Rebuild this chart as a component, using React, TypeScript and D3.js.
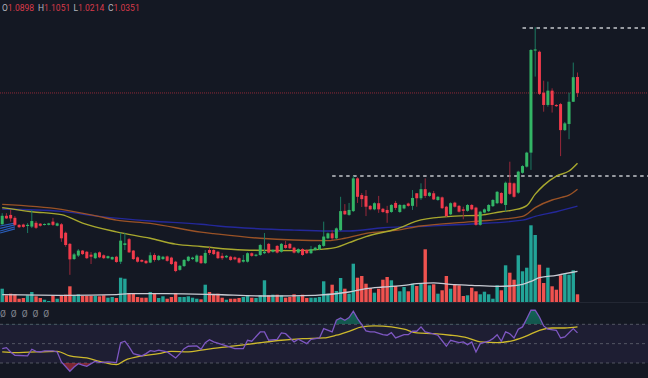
import React from "react";
import * as d3 from "d3";

const W = 648;
const H = 378;

// ---- OHLC (137 candles) ----
const opens = [
  0.586,0.615,0.618,0.608,0.584,0.585,0.580,0.578,0.591,0.588,
  0.584,0.584,0.595,0.581,0.586,0.557,0.519,0.467,0.479,0.496,
  0.492,0.482,0.470,0.490,0.480,0.470,0.466,0.475,0.458,0.515,
  0.535,0.496,0.473,0.464,0.461,0.455,0.481,0.464,0.467,0.476,
  0.472,0.458,0.430,0.443,0.461,0.467,0.458,0.478,0.453,0.498,
  0.498,0.492,0.478,0.473,0.475,0.473,0.470,0.458,0.458,0.487,
  0.478,0.481,0.487,0.519,0.492,0.512,0.492,0.515,0.519,0.506,
  0.489,0.501,0.498,0.487,0.498,0.500,0.512,0.538,0.555,0.538,
  0.566,0.632,0.618,0.631,0.743,0.686,0.683,0.649,0.637,0.658,
  0.639,0.635,0.628,0.659,0.628,0.640,0.657,0.649,0.692,0.675,
  0.706,0.683,0.692,0.669,0.678,0.646,0.620,0.660,0.649,0.637,
  0.632,0.652,0.643,0.584,0.626,0.631,0.648,0.658,0.693,0.652,
  0.728,0.726,0.694,0.762,0.783,0.831,1.180,1.176,1.036,0.994,
  1.043,0.994,0.997,0.908,0.929,1.005,1.0898,
];
const highs = [
  0.624,0.624,0.635,0.614,0.587,0.588,0.590,0.635,0.597,0.590,
  0.589,0.591,0.608,0.592,0.590,0.561,0.522,0.488,0.501,0.498,
  0.495,0.491,0.490,0.493,0.483,0.479,0.476,0.478,0.557,0.557,
  0.539,0.498,0.476,0.466,0.464,0.490,0.487,0.481,0.478,0.479,
  0.475,0.461,0.447,0.467,0.478,0.475,0.483,0.481,0.498,0.508,
  0.501,0.495,0.488,0.481,0.478,0.476,0.473,0.481,0.490,0.490,
  0.485,0.519,0.556,0.522,0.501,0.515,0.522,0.529,0.522,0.509,
  0.504,0.504,0.501,0.512,0.509,0.518,0.595,0.558,0.566,0.575,
  0.680,0.655,0.659,0.751,0.747,0.693,0.703,0.652,0.661,0.683,
  0.642,0.649,0.655,0.666,0.655,0.655,0.660,0.703,0.693,0.726,
  0.743,0.697,0.700,0.683,0.681,0.649,0.661,0.663,0.652,0.646,
  0.655,0.655,0.646,0.632,0.640,0.655,0.672,0.700,0.696,0.732,
  0.800,0.729,0.769,0.788,0.834,1.185,1.260,1.180,1.077,1.074,
  1.051,0.997,1.001,0.936,1.036,1.139,1.1051,
];
const lows = [
  0.584,0.604,0.595,0.580,0.573,0.574,0.556,0.573,0.570,0.578,
  0.582,0.582,0.580,0.579,0.526,0.509,0.413,0.464,0.474,0.481,
  0.467,0.450,0.467,0.470,0.467,0.468,0.464,0.454,0.450,0.498,
  0.488,0.464,0.455,0.456,0.450,0.453,0.458,0.461,0.464,0.458,
  0.447,0.422,0.427,0.440,0.458,0.464,0.455,0.450,0.450,0.481,
  0.481,0.467,0.464,0.470,0.461,0.463,0.452,0.455,0.455,0.475,
  0.475,0.478,0.484,0.486,0.489,0.486,0.489,0.502,0.501,0.486,
  0.486,0.478,0.484,0.484,0.495,0.497,0.509,0.535,0.532,0.535,
  0.563,0.618,0.615,0.628,0.659,0.645,0.614,0.634,0.634,0.625,
  0.625,0.591,0.625,0.635,0.625,0.637,0.646,0.635,0.646,0.669,
  0.676,0.680,0.669,0.666,0.638,0.611,0.617,0.643,0.626,0.603,
  0.629,0.634,0.581,0.581,0.623,0.628,0.645,0.655,0.655,0.629,
  0.686,0.677,0.690,0.759,0.780,0.772,1.091,1.028,0.971,0.988,
  0.968,0.987,0.819,0.905,0.877,1.004,1.0214,
];
const closes = [
  0.615,0.606,0.606,0.584,0.576,0.577,0.584,0.597,0.574,0.581,
  0.587,0.589,0.584,0.589,0.538,0.515,0.466,0.483,0.496,0.484,
  0.470,0.475,0.487,0.473,0.470,0.477,0.474,0.457,0.530,0.521,
  0.490,0.467,0.458,0.458,0.453,0.480,0.464,0.478,0.475,0.461,
  0.450,0.426,0.444,0.464,0.475,0.472,0.479,0.453,0.488,0.488,
  0.484,0.470,0.470,0.478,0.464,0.466,0.455,0.464,0.487,0.478,
  0.482,0.515,0.492,0.489,0.498,0.489,0.519,0.505,0.504,0.489,
  0.501,0.481,0.487,0.501,0.506,0.515,0.544,0.555,0.538,0.572,
  0.631,0.620,0.635,0.743,0.680,0.672,0.646,0.637,0.658,0.637,
  0.628,0.624,0.652,0.642,0.652,0.652,0.649,0.676,0.675,0.706,
  0.683,0.694,0.671,0.680,0.641,0.614,0.658,0.646,0.629,0.632,
  0.652,0.637,0.584,0.629,0.637,0.652,0.669,0.697,0.658,0.728,
  0.690,0.680,0.766,0.785,0.831,1.182,1.184,1.032,0.994,1.043,
  0.994,0.990,0.908,0.931,1.005,1.089,1.0351,
];
const volumes = [
  133,67,83,77,33,40,67,100,57,40,
  23,10,67,33,60,73,157,67,77,60,
  60,60,60,57,67,43,50,40,243,233,
  90,83,50,43,43,100,83,40,57,33,
  50,90,50,50,57,43,33,27,173,100,
  77,83,43,23,33,33,40,50,67,43,
  40,67,217,67,73,73,67,43,50,77,
  57,73,40,43,43,50,207,83,173,110,
  240,133,83,383,243,260,183,140,93,133,
  223,250,217,160,107,150,107,183,160,180,
  527,167,177,83,117,260,133,177,167,60,
  67,143,107,77,103,77,33,167,117,367,
  293,223,467,307,343,767,670,373,190,343,
  157,123,267,283,273,317,77,
];

// ---- moving averages: [candle index, value] ----
const maFast: [number, number][] = [
  [0,0.643],[7,0.629],[14,0.619],[19,0.590],[27,0.560],[35,0.538],[41,0.518],[47,0.510],
  [57,0.498],[69,0.496],[75,0.500],[79,0.507],[82,0.523],[86,0.544],[93,0.569],[99,0.601],
  [107,0.614],[113,0.617],[118,0.629],[121,0.635],[124,0.650],[126,0.689],[128,0.719],
  [131,0.751],[134,0.768],[136,0.795],
];
const maMid: [number, number][] = [
  [0,0.654],[14,0.637],[23,0.612],[27,0.600],[35,0.589],[47,0.559],[50,0.554],[61,0.538],
  [69,0.532],[77,0.530],[81,0.538],[86,0.555],[93,0.565],[99,0.580],[111,0.595],[123,0.613],
  [126,0.643],[130,0.669],[132,0.677],[134,0.686],[136,0.706],
];
const maSlow: [number, number][] = [
  [0,0.638],[14,0.630],[23,0.613],[35,0.597],[47,0.586],[51,0.580],[69,0.566],[77,0.563],
  [82,0.563],[90,0.574],[101,0.580],[111,0.587],[123,0.600],[126,0.613],[131,0.629],[136,0.648],
];
const volMa: [number, number][] = [
  [0,73],[15,67],[27,73],[30,83],[39,83],[50,75],[62,60],[74,67],[82,100],[86,133],[90,150],
  [95,167],[98,183],[102,192],[106,177],[111,167],[117,157],[120,160],[123,177],[125,207],
  [127,243],[131,267],[133,283],[136,307],
];

// ---- RSI ----
const rsi: [number, number][] = [
  [0,44.8],[1,45.9],[2,41.4],[3,38.0],[6,37.3],[7,44.2],[8,42.1],[9,41.4],[10,42.5],[12,42.5],
  [13,41.4],[14,31.1],[16,21.5],[17,25.9],[18,29.3],[19,27.7],[20,26.6],[22,31.8],[23,30.4],
  [25,31.1],[27,30.4],[28,51.0],[29,52.5],[30,46.6],[31,39.7],[33,37.3],[34,39.7],[35,42.8],
  [36,42.1],[37,43.2],[39,41.4],[41,35.2],[42,39.7],[43,44.8],[44,47.3],[46,47.6],[47,44.2],
  [48,51.0],[49,54.1],[50,51.8],[53,47.6],[55,44.8],[57,44.8],[58,53.5],[59,52.5],[61,62.1],
  [62,62.1],[63,53.5],[65,54.5],[66,61.1],[67,60.3],[69,51.8],[70,54.5],[72,50.0],[73,54.5],
  [75,55.9],[76,65.5],[78,62.1],[79,74.2],[80,76.6],[81,74.2],[82,76.9],[83,83.5],[84,75.8],
  [85,69.6],[86,63.1],[87,62.1],[88,62.1],[90,59.3],[91,58.7],[92,61.4],[93,55.9],[95,59.3],
  [96,59.3],[97,62.8],[98,62.8],[99,67.3],[100,62.1],[101,61.1],[103,58.7],[105,47.3],
  [106,53.5],[108,51.0],[109,51.8],[110,49.0],[111,51.8],[112,41.4],[113,50.0],[115,52.5],
  [116,55.2],[117,59.3],[118,52.5],[119,62.1],[120,60.3],[121,55.9],[122,64.9],[123,67.3],
  [124,75.8],[125,84.5],[126,84.5],[127,77.6],[128,68.3],[129,64.9],[131,63.8],[132,55.9],
  [133,56.9],[135,65.5],[136,61.1],
];
const rsiMa: [number, number][] = [
  [0,41.4],[3,40.7],[13,42.1],[16,37.3],[20,35.2],[23,31.8],[27,28.3],[29,32.8],[33,37.3],
  [37,39.7],[40,42.1],[44,41.4],[47,43.2],[51,45.6],[55,47.6],[61,51.0],[66,53.5],[71,55.2],
  [76,55.9],[79,58.7],[82,62.8],[85,67.3],[88,68.3],[92,67.3],[95,64.9],[98,61.1],[102,60.3],
  [106,58.7],[110,55.9],[113,51.8],[117,51.0],[121,53.5],[124,58.0],[127,63.8],[130,66.2],
  [133,66.2],[136,67.3],
];
const rsiLevels = [70, 50, 30];

// ---- drawings ----
const levelPrices = [1.257, 0.751];
const levelFrom = [123, 78];
const channelLo = [0.580, 0.572, 0.563, 0.556];
const channelHi = [0.590, 0.584, 0.577, 0.570];
const channelFrom = -0.5;
const channelTo = 3;

const BG = "#141823";
const UP = "#33b565";
const DOWN = "#f03a4b";
const UP_WICK = "#1c7a62";
const DOWN_WICK = "#98283a";
const VOL_UP = "#22a497";
const VOL_DOWN = "#f0524f";

export default function App() {
  const n = closes.length;
  const x = d3.scaleLinear().domain([0, n - 1]).range([2.2, 577.5]);
  const y = d3.scaleLinear().domain([0.327, 1.353]).range([300, 0]);
  const yv = d3.scaleLinear().domain([0, 1000]).range([302, 202]);
  const yr = d3.scaleLinear().domain([30, 70]).range([363, 324.3]);

  const priceLine = d3
    .line<[number, number]>()
    .x((d) => x(d[0]))
    .y((d) => y(d[1]))
    .curve(d3.curveMonotoneX);
  const volLine = d3
    .line<[number, number]>()
    .x((d) => x(d[0]))
    .y((d) => yv(d[1]))
    .curve(d3.curveMonotoneX);
  const rsiLine = d3
    .line<[number, number]>()
    .x((d) => x(d[0]))
    .y((d) => yr(d[1]));
  const rsiMaLine = d3
    .line<[number, number]>()
    .x((d) => x(d[0]))
    .y((d) => yr(d[1]))
    .curve(d3.curveMonotoneX);
  const upperArea = d3
    .area<[number, number]>()
    .x((d) => x(d[0]))
    .y0(yr(70))
    .y1((d) => yr(d[1]));
  const lowerArea = d3
    .area<[number, number]>()
    .x((d) => x(d[0]))
    .y0(yr(30))
    .y1((d) => yr(d[1]));

  const bodyW = 3;
  const volW = 3.4;
  const last = n - 1;
  const font = "Roboto, 'Noto Sans', sans-serif";

  const legend = [
    { k: "O", v: opens[last], x: 2 },
    { k: "H", v: highs[last], x: 38 },
    { k: "L", v: lows[last], x: 73.5 },
    { k: "C", v: closes[last], x: 108 },
  ];

  return (
    <div style={{ position: "fixed", left: 0, top: 0, width: W, height: H }}>
      <svg width={W} height={H} style={{ display: "block", background: BG }}>
        <defs>
          <clipPath id="clipUp">
            <rect x={0} y={0} width={W} height={yr(70)} />
          </clipPath>
          <clipPath id="clipDown">
            <rect x={0} y={yr(30)} width={W} height={H - yr(30)} />
          </clipPath>
          <linearGradient id="gUp" x1="0" y1="0" x2="0" y2="1">
            <stop offset="0%" stopColor="#12a080" stopOpacity={0.55} />
            <stop offset="100%" stopColor="#12a080" stopOpacity={0.12} />
          </linearGradient>
          <linearGradient id="gDown" x1="0" y1="0" x2="0" y2="1">
            <stop offset="0%" stopColor="#f23645" stopOpacity={0.12} />
            <stop offset="100%" stopColor="#f23645" stopOpacity={0.5} />
          </linearGradient>
        </defs>
        <rect x={0} y={0} width={W} height={H} fill={BG} />

        {/* pane separator */}
        <line x1={0} x2={W} y1={302.5} y2={302.5} stroke="#232733" strokeWidth={1} />

        {/* volume */}
        {volumes.map((v, i) => (
          <rect
            key={"v" + i}
            x={x(i) - volW / 2}
            y={yv(v)}
            width={volW}
            height={yv(0) - yv(v)}
            fill={closes[i] >= opens[i] ? VOL_UP : VOL_DOWN}
          />
        ))}
        <path d={volLine(volMa) || ""} fill="none" stroke="#c9ccd4" strokeWidth={1.3} />

        {/* last price line */}
        <line
          x1={0}
          x2={W}
          y1={y(closes[last])}
          y2={y(closes[last])}
          stroke="#8e2a38"
          strokeWidth={1}
          strokeDasharray="1,1"
        />

        {/* horizontal levels */}
        {levelPrices.map((p, k) => (
          <line
            key={"lv" + k}
            x1={x(levelFrom[k])}
            x2={W}
            y1={y(p)}
            y2={y(p)}
            stroke="#c3c6cc"
            strokeWidth={1.4}
            strokeDasharray="3.5,3.5"
          />
        ))}

        {/* channel drawing at left */}
        {channelLo.map((p, k) => (
          <line
            key={"ch" + k}
            x1={x(channelFrom)}
            x2={x(channelTo)}
            y1={y(p)}
            y2={y(channelHi[k])}
            stroke="#2f6fe0"
            strokeWidth={1.2}
            opacity={0.8}
          />
        ))}

        {/* moving averages */}
        <path d={priceLine(maSlow) || ""} fill="none" stroke="#24289a" strokeWidth={1.4} />
        <path d={priceLine(maMid) || ""} fill="none" stroke="#9a5226" strokeWidth={1.4} />
        <path d={priceLine(maFast) || ""} fill="none" stroke="#a8a82e" strokeWidth={1.4} />

        {/* candles */}
        {closes.map((c, i) => {
          const o = opens[i];
          const up = c >= o;
          const top = y(Math.max(o, c));
          const bot = y(Math.min(o, c));
          return (
            <g key={"c" + i}>
              <line
                x1={x(i)}
                x2={x(i)}
                y1={y(highs[i])}
                y2={y(lows[i])}
                stroke={up ? UP_WICK : DOWN_WICK}
                strokeWidth={1}
              />
              <rect
                x={x(i) - bodyW / 2}
                y={top}
                width={bodyW}
                height={Math.max(1, bot - top)}
                fill={up ? UP : DOWN}
              />
            </g>
          );
        })}

        {/* legend */}
        {legend.map((g) => (
          <text key={g.k} x={g.x} y={11} fontSize={8.5} fontFamily={font}>
            <tspan fill="#b2b5be">{g.k}</tspan>
            <tspan fill="#d93a4a">{g.v.toFixed(4)}</tspan>
          </text>
        ))}

        {/* indicator value placeholders */}
        {[0, 1, 2, 3, 4].map((k) => (
          <text
            key={"ic" + k}
            x={3 + k * 10.8}
            y={317}
            fontSize={8.5}
            fontFamily={font}
            fill="#8a8d96"
            textAnchor="middle"
          >
            Ø
          </text>
        ))}

        {/* RSI pane */}
        <rect
          x={0}
          y={yr(70)}
          width={W}
          height={yr(30) - yr(70)}
          fill="#7e57c2"
          fillOpacity={0.1}
        />
        {rsiLevels.map((l) => (
          <line
            key={"rl" + l}
            x1={0}
            x2={W}
            y1={yr(l)}
            y2={yr(l)}
            stroke="#787b86"
            strokeOpacity={0.6}
            strokeWidth={1}
            strokeDasharray="3,3"
          />
        ))}
        <path d={upperArea(rsi) || ""} fill="url(#gUp)" clipPath="url(#clipUp)" />
        <path d={lowerArea(rsi) || ""} fill="url(#gDown)" clipPath="url(#clipDown)" />
        <path d={rsiMaLine(rsiMa) || ""} fill="none" stroke="#cdb92c" strokeWidth={1.3} />
        <path d={rsiLine(rsi) || ""} fill="none" stroke="#7e57c2" strokeWidth={1.3} />
      </svg>
    </div>
  );
}
